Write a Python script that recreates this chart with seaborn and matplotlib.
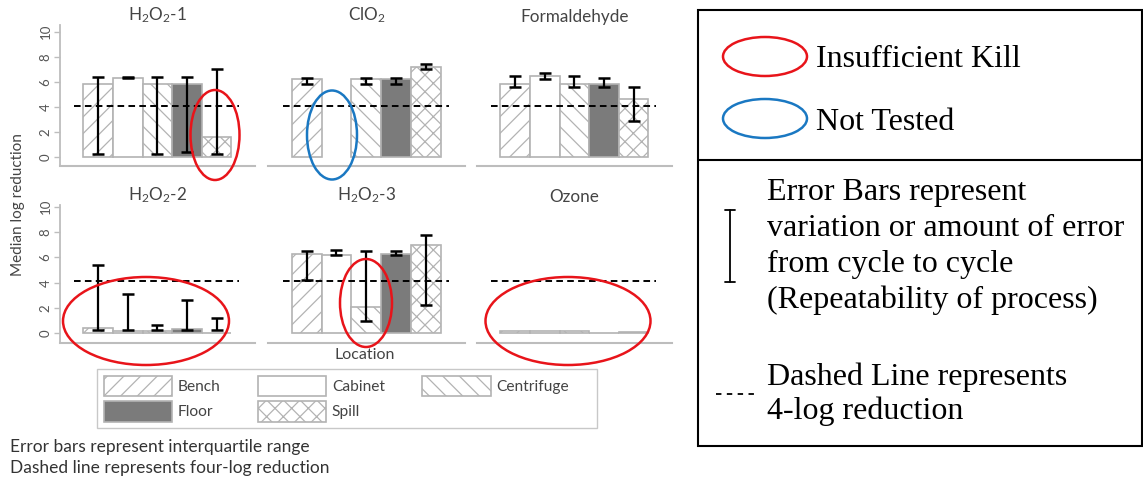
import numpy as np
import pandas as pd
import seaborn as sns
import matplotlib.pyplot as plt
from matplotlib.patches import Patch, Ellipse, Rectangle

nan = np.nan

locations = ["Bench", "Cabinet", "Centrifuge", "Floor", "Spill"]
panel_titles = ["H$_2$O$_2$-1", "ClO$_2$", "Formaldehyde",
                "H$_2$O$_2$-2", "H$_2$O$_2$-3", "Ozone"]

# median log reduction and interquartile range (q1, q3) per location
h2o2_1_med = [5.8, 6.3, 5.8, 5.8, 1.6]
h2o2_1_q1 = [0.2, 6.3, 0.2, 0.35, 0.2]
h2o2_1_q3 = [6.4, 6.38, 6.4, 6.4, 7.0]

clo2_med = [6.2, nan, 6.2, 6.2, 7.15]
clo2_q1 = [5.8, nan, 5.8, 5.8, 7.0]
clo2_q3 = [6.3, nan, 6.3, 6.3, 7.45]

form_med = [5.85, 6.45, 5.85, 5.85, 4.6]
form_q1 = [5.55, 6.2, 5.55, 5.55, 2.9]
form_q3 = [6.45, 6.7, 6.45, 6.3, 5.55]

h2o2_2_med = [0.45, 0.2, 0.15, 0.35, 0.05]
h2o2_2_q1 = [0.3, 0.26, 0.26, 0.26, 0.26]
h2o2_2_q3 = [5.4, 3.1, 0.63, 2.6, 1.2]

h2o2_3_med = [6.3, 6.2, 2.1, 6.3, 7.0]
h2o2_3_q1 = [4.2, 6.2, 1.0, 6.2, 2.2]
h2o2_3_q3 = [6.5, 6.55, 6.5, 6.5, 7.8]

ozone_med = [0.15, 0.15, 0.15, 0.05, 0.1]
ozone_q1 = [nan, nan, nan, nan, nan]
ozone_q3 = [nan, nan, nan, nan, nan]

four_log = 4.1

medians = [h2o2_1_med, clo2_med, form_med, h2o2_2_med, h2o2_3_med, ozone_med]
q1s = [h2o2_1_q1, clo2_q1, form_q1, h2o2_2_q1, h2o2_3_q1, ozone_q1]
q3s = [h2o2_1_q3, clo2_q3, form_q3, h2o2_2_q3, h2o2_3_q3, ozone_q3]

rows = []
for t, m, lo, hi in zip(panel_titles, medians, q1s, q3s):
    for loc, a, b, c in zip(locations, m, lo, hi):
        rows.append({"agent": t, "Location": loc, "median": a, "q1": b, "q3": c})
df = pd.DataFrame(rows)

fills = {"Bench": "white", "Cabinet": "white", "Centrifuge": "white",
         "Floor": "#7b7b7b", "Spill": "white"}
hatches = {"Bench": "//", "Cabinet": "", "Centrifuge": "\\\\",
           "Floor": "", "Spill": "xx"}
edge = "#b3b3b3"
axis_gray = "#bdbdbd"
text_gray = "#444444"

sns.set_style("white")
plt.rcParams["font.family"] = ["Lato", "DejaVu Sans"]
plt.rcParams["mathtext.default"] = "regular"
plt.rcParams["hatch.linewidth"] = 0.9

W, H = 1143, 479
fig = plt.figure(figsize=(W / 100, H / 100), dpi=100)


def px_axes(x0, y0, x1, y1, **kw):
    return fig.add_axes([x0 / W, 1 - y1 / H, (x1 - x0) / W, (y1 - y0) / H], **kw)


cols_px = [(60, 255), (268, 465), (477, 672)]
rows_px = [(25, 166, 10.54), (205, 342.7, 10.13)]

for i, title in enumerate(panel_titles):
    r, c = divmod(i, 3)
    y0, y1, ytop = rows_px[r]
    x0, x1 = cols_px[c]
    ax = px_axes(x0, y0, x1, y1)
    sub = df[df["agent"] == title]
    sns.barplot(data=sub, x="Location", y="median", order=locations, ax=ax,
                color="white", edgecolor=edge, linewidth=1.2, width=1.0,
                errorbar=None, saturation=1)
    for p in ax.patches:
        k = int(round(p.get_x() + p.get_width() / 2))
        loc = locations[k]
        p.set_facecolor(fills[loc])
        p.set_hatch(hatches[loc])
        p.set_edgecolor(edge)

    lo = sub["q1"].to_numpy()
    hi = sub["q3"].to_numpy()
    ok = np.isfinite(lo) & np.isfinite(hi)
    xs = np.arange(len(locations))
    if ok.any():
        ax.errorbar(xs[ok], (lo[ok] + hi[ok]) / 2, yerr=(hi[ok] - lo[ok]) / 2,
                    fmt="none", ecolor="black", elinewidth=1.6,
                    capsize=4.5, capthick=1.8, zorder=4)
    ax.hlines(four_log, -0.8, 4.75, colors="black", linewidth=1.4,
              linestyles=(0, (3.4, 2.2)), zorder=5)

    ax.set_xlim(-1.29, 5.3)
    ax.set_ylim(-0.74, ytop)
    ax.set_xlabel("")
    ax.set_ylabel("")
    ax.set_xticks([])
    ax.set_title(title, fontsize=12.3, color=text_gray, pad=1)
    for s in ["top", "right"]:
        ax.spines[s].set_visible(False)
    ax.spines["bottom"].set_color(axis_gray)
    ax.spines["bottom"].set_linewidth(1.5)
    if c == 0:
        ax.spines["left"].set_color(axis_gray)
        ax.spines["left"].set_linewidth(1.3)
        ax.set_yticks([0, 2, 4, 6, 8, 10])
        ax.tick_params(axis="y", left=True, length=4, width=1, color=axis_gray,
                       labelsize=9.5, labelcolor="#555555", pad=2)
        for lab in ax.get_yticklabels():
            lab.set_rotation(90)
            lab.set_va("center")
    else:
        ax.spines["left"].set_visible(False)
        ax.set_yticks([])

fig.text(18 / W, 1 - 205 / H, "Median log reduction", rotation=90,
         ha="center", va="center", fontsize=11, color=text_gray)
fig.text(365 / W, 1 - 355 / H, "Location", ha="center", va="center",
         fontsize=11.5, color=text_gray)

handles = []
for loc in ["Bench", "Floor", "Cabinet", "Spill", "Centrifuge"]:
    handles.append(Patch(facecolor=fills[loc], hatch=hatches[loc],
                         edgecolor=edge, linewidth=1.2, label=loc))
leg = fig.legend(handles=handles, loc="upper left", ncol=3,
                 bbox_to_anchor=(104 / W, 1 - 376 / H),
                 fontsize=11.2, frameon=False,
                 handlelength=4.4, handleheight=1.65, handletextpad=0.35,
                 labelspacing=0.3, columnspacing=2.4, borderpad=0,
                 borderaxespad=0)
for t in leg.get_texts():
    t.set_color(text_gray)

fig.text(10 / W, 1 - 447 / H, "Error bars represent interquartile range",
         va="center", fontsize=12.5, color="#333333")
fig.text(10 / W, 1 - 468 / H, "Dashed line represents four-log reduction",
         va="center", fontsize=12.5, color="#333333")

# annotation layer in pixel coordinates
ov = fig.add_axes([0, 0, 1, 1], zorder=10)
ov.set_xlim(0, W)
ov.set_ylim(H, 0)
ov.axis("off")
ov.patch.set_alpha(0)

# legend frame
ov.add_patch(Rectangle((96.5, 368.5), 500, 59, fill=False, ec="#c8c8c8", lw=1.0))

red = "#e8141a"
blue = "#1a78c2"
for cx, cy, w, h, col in [(215, 135, 49, 90, red), (332, 135, 50, 89, blue),
                          (146, 321, 166, 88, red), (366, 303, 52, 88, red),
                          (568, 321, 165, 88, red)]:
    ov.add_patch(Ellipse((cx, cy), w, h, fill=False, ec=col, lw=1.8))

ov.add_patch(Rectangle((697.5, 10), 444, 436, fill=False, ec="black", lw=1.5))
ov.plot([697.5, 1141.5], [160, 160], color="black", lw=1.5)
ov.add_patch(Ellipse((765, 56.5), 84, 39, fill=False, ec=red, lw=1.8))
ov.add_patch(Ellipse((765, 118.5), 84, 39, fill=False, ec=blue, lw=1.8))

serif = dict(family="Liberation Serif", fontsize=23, color="black", va="baseline")
ov.text(816, 66.5, "Insufficient Kill", **serif)
ov.text(816, 129.5, "Not Tested", **serif)
for yb, line in zip([200, 236, 272, 308],
                    ["Error Bars represent", "variation or amount of error",
                     "from cycle to cycle", "(Repeatability of process)"]):
    ov.text(767, yb, line, **serif)
ov.text(767, 385, "Dashed Line represents", **serif)
ov.text(767, 419, "4-log reduction", **serif)

ov.plot([730, 730], [210, 282], color="black", lw=1.3)
ov.plot([725, 735], [210, 210], color="black", lw=1.3)
ov.plot([725, 735], [282, 282], color="black", lw=1.3)
ov.plot([716, 758], [394, 394], color="black", lw=1.3, linestyle=(0, (3, 3)))

fig.savefig("out.png", dpi=100)
